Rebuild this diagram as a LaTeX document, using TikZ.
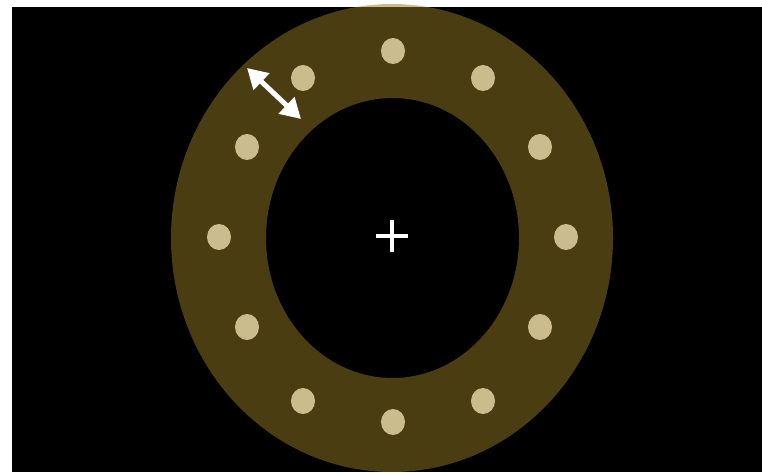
\documentclass[tikz,border=0pt]{standalone}
\usetikzlibrary{arrows.meta}
\definecolor{ringgold}{RGB}{150,122,36}
\definecolor{holetan}{RGB}{202,188,140}

\begin{document}
\begin{tikzpicture}[x=1pt,y=-1pt]
	\useasboundingbox (0,0) rectangle (762,472);
	\fill [black] (12,7) rectangle (762,472);
	% flange ring
	\fill [ringgold, fill opacity=0.5, even odd rule] (392,238) ellipse [x radius=221, y radius=234] (392.5,238) ellipse [x radius=126.5, y radius=140];
	% bolt holes
	\foreach \hx/\hy in {393/51, 483/78, 540/147, 566/237, 540/327, 483/401, 393/422, 303/401, 247/327, 219/237, 247/147, 303/78}
		\fill [holetan] (\hx,\hy) ellipse [x radius=12, y radius=13];
	% centre mark
	\coordinate (c) at (392,236);
	\draw [white, line width=3.5pt] ([xshift=-16pt]c) -- ([xshift=16pt]c);
	\draw [white, line width=3.5pt] ([yshift=-16pt]c) -- ([yshift=16pt]c);
	% width arrow
	\coordinate (w1) at (247,68);
	\coordinate (w2) at (301,119);
	\draw [white, line width=5pt, {Triangle[length=20pt,width=22pt]}-{Triangle[length=20pt,width=22pt]}] (w1) -- (w2);
\end{tikzpicture}
\end{document}
